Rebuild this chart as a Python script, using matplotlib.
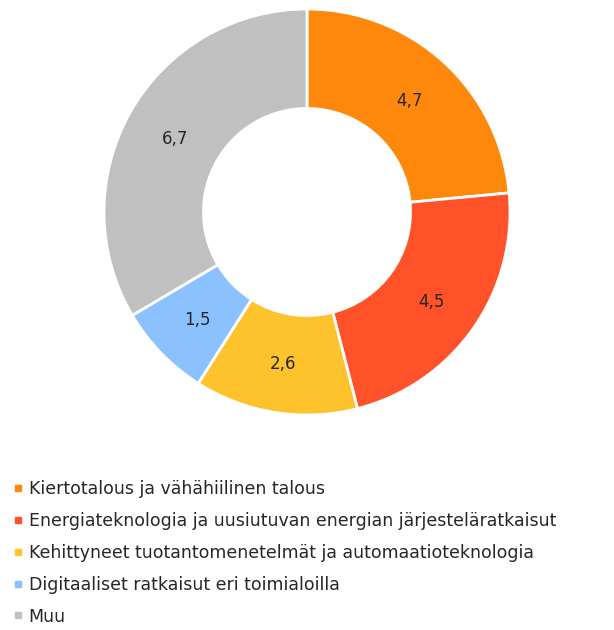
import matplotlib
matplotlib.use("Agg")
import matplotlib.pyplot as plt
import numpy as np
from matplotlib.lines import Line2D

# Data
categories = [
    "Kiertotalous ja vähähiilinen talous",
    "Energiateknologia ja uusiutuvan energian järjesteläratkaisut",
    "Kehittyneet tuotantomenetelmät ja automaatioteknologia",
    "Digitaaliset ratkaisut eri toimialoilla",
    "Muu",
]
values = [4.7, 4.5, 2.6, 1.5, 6.7]
colors = ["#FD880B", "#FF5229", "#FEC22C", "#8BC1FF", "#C0C0C0"]

W, H = 614, 630
fig = plt.figure(figsize=(W / 100, H / 100), dpi=100)

# Donut placement (pixel geometry of the reference)
cx, cy, r = 307, 212, 203
ax = fig.add_axes([(cx - r) / W, (H - cy - r) / H, 2 * r / W, 2 * r / H])

wedges, _ = ax.pie(
    values, colors=colors, startangle=90, counterclock=False,
    radius=1.0, wedgeprops=dict(width=0.49, edgecolor="white", linewidth=2),
)
for w, v in zip(wedges, values):
    ang = np.deg2rad((w.theta1 + w.theta2) / 2)
    ax.text(0.75 * np.cos(ang), 0.75 * np.sin(ang), f"{v:.1f}".replace(".", ","),
            ha="center", va="center_baseline", fontsize=12, color="#262626")
ax.set_xlim(-1.0, 1.0)
ax.set_ylim(-1.0, 1.0)
ax.set_aspect("equal")
ax.axis("off")

# Legend
handles = [Line2D([0], [0], marker="s", linestyle="none", markersize=5,
                  markerfacecolor=c, markeredgecolor=c) for c in colors]
fig.legend(handles, categories, loc="upper left",
           bbox_to_anchor=(7 / W, 1 - 473 / H), frameon=False,
           fontsize=12.5, handlelength=0.5, handletextpad=0.35,
           labelspacing=0.8, borderaxespad=0, labelcolor="#262626")

fig.savefig("out.png", dpi=100, facecolor="white")
